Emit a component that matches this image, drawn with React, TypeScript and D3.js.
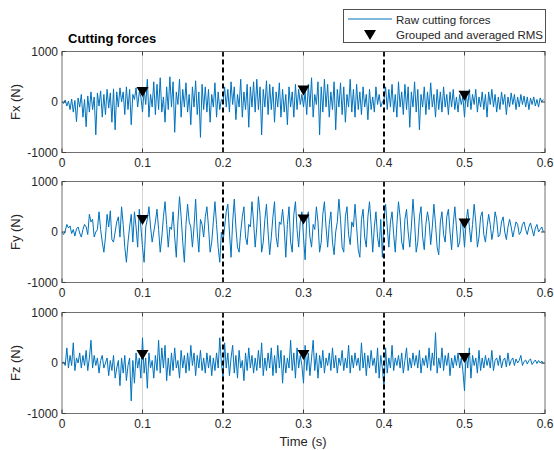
import React from "react";
import * as d3 from "d3";

const DT = 0.002;
const panelLabels = ["Fx (N)", "Fy (N)", "Fz (N)"];
const xTicks = [0, 0.1, 0.2, 0.3, 0.4, 0.5, 0.6];
const yTicks = [-1000, 0, 1000];
const greyLines = [0.1, 0.3, 0.5];
const dashedLines = [0.2, 0.4];
const rmsTimes = [0.1, 0.3, 0.5];
const rmsFx = [200, 230, 125];
const rmsFy = [240, 250, 170];
const rmsFz = [160, 160, 100];

const fx = [
  0, -30, 40, -80, 20, -150, 60, -200, 30, -390, 80, -100, 150, -300, 50, -490, 120, -200, 200, -150, 100, -650, 180, -80, 220, -300, 150, -250, 250, -120, 180, -400, 260, -550, 200, -100, 280, 0, 200, -250, 300, -150, 250, -450, 150, 50, 280, -100, 200, 100,
  -200, 250, -50, 450, -300, 150, -100, 400, -250, 350, -150, 480, -200, 100, -400, 300, -150, 500, -100, 400, -600, 200, -50, 450, -300, 250, -100, 380, -200, 150, -450, 300, -100, 420, -250, 200, -700, 350, -150, 300, -200, 250, -400, 150, -100, 380, -300, 200, -150, 50,
  0, 300, -100, 250, -200, 400, -50, 300, -350, 150, -100, 450, -300, 200, -150, 350, -500, 300, -100, 400, -200, 450, -150, 300, -650, 250, -100, 420, -250, 350, -150, 300, -400, 200, -100, 380, -300, 250, -200, 150, -450, 300, -100, 200, -300, 350, -150, 250, -50, 150,
  -100, 200, -250, 350, -100, 480, -300, 150, -50, 400, -650, 300, -200, 450, -100, 350, -300, 200, -150, 400, -550, 250, -100, 380, -250, 300, -400, 150, -100, 450, -200, 250, -300, 350, -150, 200, -250, 300, -100, 150, -350, 250, -150, 100, -200, 300, -50, 150, -100, 0,
  50, 300, -150, 250, -100, 350, -200, 150, -300, 400, -100, 200, -250, 350, -150, 300, -500, 200, -100, 400, -200, 250, -550, 150, -100, 300, -250, 200, -150, 380, -100, 150, -300, 250, -150, 200, -200, 300, -100, 150, -250, 200, -100, 250, -150, 100, -200, 150, -50, 100,
  -300, 200, -100, 250, -150, 150, -50, 250, -200, 100, -100, 200, -150, 150, -300, 200, -50, 250, -100, 150, -200, 100, -150, 200, -50, 150, -250, 100, -100, 180, -50, 150, -150, 100, -100, 150, -50, 120, -100, 100, -150, 80, -50, 100, -80, 50, -100, 80, 0, 50,
];

const fy = [
  0, -50, 20, 150, 80, 120, -30, 50, -80, 60, 100, -20, -100, 50, 150, 100, -50, 350, 200, 250, -100, 0, 50, 400, 50, -200, -400, -100, 350, 100, 420, -150, -200, 0, 200, 300, -100, 500, 150, -300, -600, -200, 100, 350, -200, 400, 100, -300, 450, 100,
  -300, -600, 100, 250, 500, 100, -200, 0, 200, 450, 50, -400, -100, 300, 600, 150, -300, 100, 50, 400, -100, -500, 200, 700, 300, -200, -600, 150, 550, 200, 100, -300, 100, 650, 0, -400, 250, 150, -100, 300, 500, 100, -400, -200, 200, 600, 150, -300, -600, 0,
  -200, 100, 400, 550, 0, -500, 200, 650, 100, -300, -400, 0, 300, 500, -100, -250, 150, 100, 600, 200, -300, 100, 700, 350, -400, -200, 250, 550, 0, -450, -100, 300, 600, -100, -300, 200, 150, 450, 100, -500, 150, 500, -200, -400, 350, 600, 50, -300, 200, 400,
  -100, -550, 250, 400, -100, -300, 150, 50, 500, 200, -400, -200, 350, 600, 100, -300, 150, 400, -200, -450, 0, 200, 650, 250, -300, -400, 300, 500, -50, -250, 200, 100, 550, 100, -350, -500, 250, 450, -100, -300, 300, 600, 150, -400, 100, 400, -100, -300, 250, -500,
  300, 550, 100, -300, 200, 400, -50, -400, 150, 600, 300, -200, -350, 250, 450, 0, -300, 100, 650, 200, -400, -200, 300, 500, -100, -350, 150, 400, 200, -250, 100, 550, 150, -300, -450, 200, 400, -50, -200, 300, 450, 0, -350, 150, 500, 100, -300, -200, 250, 100,
  -300, 200, 450, 100, -200, 150, 550, 200, -300, -100, 300, 400, -50, -200, 100, 350, 150, -150, 50, 400, 250, -100, -50, 200, 300, 0, -150, 100, 250, 100, -100, 50, 200, 150, -50, 0, 150, 200, 50, -50, 100, 180, 50, -80, 80, 150, 0, 50, 100, 0,
];

const fz = [
  0, 20, -50, 300, -100, 150, -50, 400, -150, 100, 0, 200, -100, 150, -50, 250, -150, 100, 450, -100, 150, -50, 100, -200, 50, 150, -100, 0, 100, -250, 50, -150, 150, -300, -100, 50, -450, 100, -200, 150, -350, -50, 100, -750, 50, -400, 200, -100, 100, -300,
  500, -200, 100, -500, 200, -100, 50, -300, 150, -150, 450, -200, 300, -100, 350, -350, 100, -250, 200, -150, 300, -100, 50, -300, 250, -100, 150, -200, 200, -150, 350, -50, 200, -250, 150, -100, 250, -150, 100, -200, 200, -100, 150, -250, 100, -150, 200, -100, 500, 0,
  -300, 400, -100, 200, -250, 100, 350, -200, 150, -300, 250, -100, 50, -350, 200, -150, 300, -100, 150, -200, 100, -150, 250, -100, 400, -250, 100, -150, 200, -100, 300, -250, 150, -200, 350, -100, 250, -400, 150, -200, 100, -100, 450, -150, 200, -300, 300, -100, 150, -50,
  -400, 350, -150, 200, -250, 100, 450, -150, 200, -300, 150, -100, 250, -200, 100, -50, 200, -150, 300, -100, 150, -200, 100, -50, 250, -150, 100, -100, 350, -200, 150, -100, 200, -50, 100, -150, 400, -100, 200, -250, 150, -100, 250, -50, 100, -200, 300, -300, 150, -100,
  -500, 300, -200, 100, -100, 350, -150, 100, -50, 150, -100, 200, -200, 50, 300, -150, 100, -100, 200, -50, 150, -100, 250, -200, 100, -50, 150, -100, 300, -150, 200, -50, 600, -200, 100, -100, 300, -150, 150, -50, 200, -250, 100, -100, 150, -50, 200, -100, 100, -150,
  -550, 200, -100, 300, -300, 150, -50, 100, -200, 250, -150, 100, -100, 150, -50, 100, -100, 250, -150, 50, 100, -50, 150, -100, 50, 100, -80, 200, -50, 50, 100, -50, 80, 0, 50, 150, -50, 30, 60, -20, 50, 80, -30, 20, 60, -10, 50, 0, 40, -20,
];

const signals = [fx, fy, fz];
const rmsValues = [rmsFx, rmsFy, rmsFz];

const W = 554;
const H = 450;
const left = 62;
const right = 545;
const panelTops = [51.5, 181.5, 312.5];
const panelH = 101;
const FONT = "'Liberation Sans', Arial, Helvetica, sans-serif";
const LINE_COLOR = "#0072BD";

function Panel({ idx }: { idx: number }) {
  const top = panelTops[idx];
  const bottom = top + panelH;
  const x = d3.scaleLinear().domain([0, 0.6]).range([left, right]);
  const y = d3.scaleLinear().domain([-1000, 1000]).range([bottom, top]);
  const data = signals[idx];
  const line = d3
    .line<number>()
    .x((_, i) => x(i * DT))
    .y((d) => y(d));
  const tri = (cx: number, cy: number) =>
    `M${cx - 6},${cy - 5}L${cx + 6},${cy - 5}L${cx},${cy + 5}Z`;
  return (
    <g>
      <rect x={left} y={top} width={right - left} height={panelH} fill="#fff" />
      {greyLines.map((t) => (
        <line key={"g" + t} x1={x(t)} x2={x(t)} y1={top} y2={bottom} stroke="#d4d4d4" strokeWidth={1} />
      ))}
      <path d={line(data) || ""} fill="none" stroke={LINE_COLOR} strokeWidth={1} strokeLinejoin="round" />
      {dashedLines.map((t) => (
        <line key={"d" + t} x1={x(t)} x2={x(t)} y1={top} y2={bottom} stroke="#000" strokeWidth={2} strokeDasharray="5,3" />
      ))}
      {rmsTimes.map((t, i) => (
        <path key={"r" + t} d={tri(x(t), y(rmsValues[idx][i]))} fill="#000" />
      ))}
      <rect x={left} y={top} width={right - left} height={panelH} fill="none" stroke="#707070" strokeWidth={1} />
      {xTicks.map((t) => (
        <g key={"xt" + t}>
          <line x1={x(t)} x2={x(t)} y1={bottom} y2={bottom - 4} stroke="#404040" />
          <line x1={x(t)} x2={x(t)} y1={top} y2={top + 4} stroke="#404040" />
          <text x={x(t)} y={bottom + 14} textAnchor="middle" fontSize={12} fontFamily={FONT} fill="#262626">
            {String(t)}
          </text>
        </g>
      ))}
      {yTicks.map((v) => (
        <g key={"yt" + v}>
          <line x1={left} x2={left + 4} y1={y(v)} y2={y(v)} stroke="#404040" />
          <line x1={right} x2={right - 4} y1={y(v)} y2={y(v)} stroke="#404040" />
          <text x={left - 4} y={y(v) + 4} textAnchor="end" fontSize={12} fontFamily={FONT} fill="#262626">
            {String(v)}
          </text>
        </g>
      ))}
      <text
        transform={`translate(${20},${(top + bottom) / 2}) rotate(-90)`}
        textAnchor="middle"
        fontSize={13}
        fontFamily={FONT}
        fill="#262626"
      >
        {panelLabels[idx]}
      </text>
    </g>
  );
}

export default function App() {
  return (
    <svg
      width={W}
      height={H}
      style={{ position: "absolute", left: 0, top: 0, background: "#fff" }}
    >
      <rect x={0} y={0} width={W} height={H} fill="#fff" />
      {[0, 1, 2].map((i) => (
        <Panel key={i} idx={i} />
      ))}
      <text x={68} y={43} fontSize={13} fontWeight="bold" fontFamily={FONT} fill="#000">
        Cutting forces
      </text>
      <text x={303} y={446} textAnchor="middle" fontSize={13} fontFamily={FONT} fill="#262626">
        Time (s)
      </text>
      <g>
        <rect x={343.5} y={9.5} width={202} height={33} fill="#fff" stroke="#505050" strokeWidth={1} />
        <line x1={348} x2={392} y1={19} y2={19} stroke={LINE_COLOR} strokeWidth={1.2} />
        <text x={396} y={24} fontSize={11.5} fontFamily={FONT} fill="#262626">
          Raw cutting forces
        </text>
        <path d="M364,30L376,30L370,40Z" fill="#000" />
        <text x={396} y={38.5} fontSize={11.5} fontFamily={FONT} fill="#262626">
          Grouped and averaged RMS
        </text>
      </g>
    </svg>
  );
}
